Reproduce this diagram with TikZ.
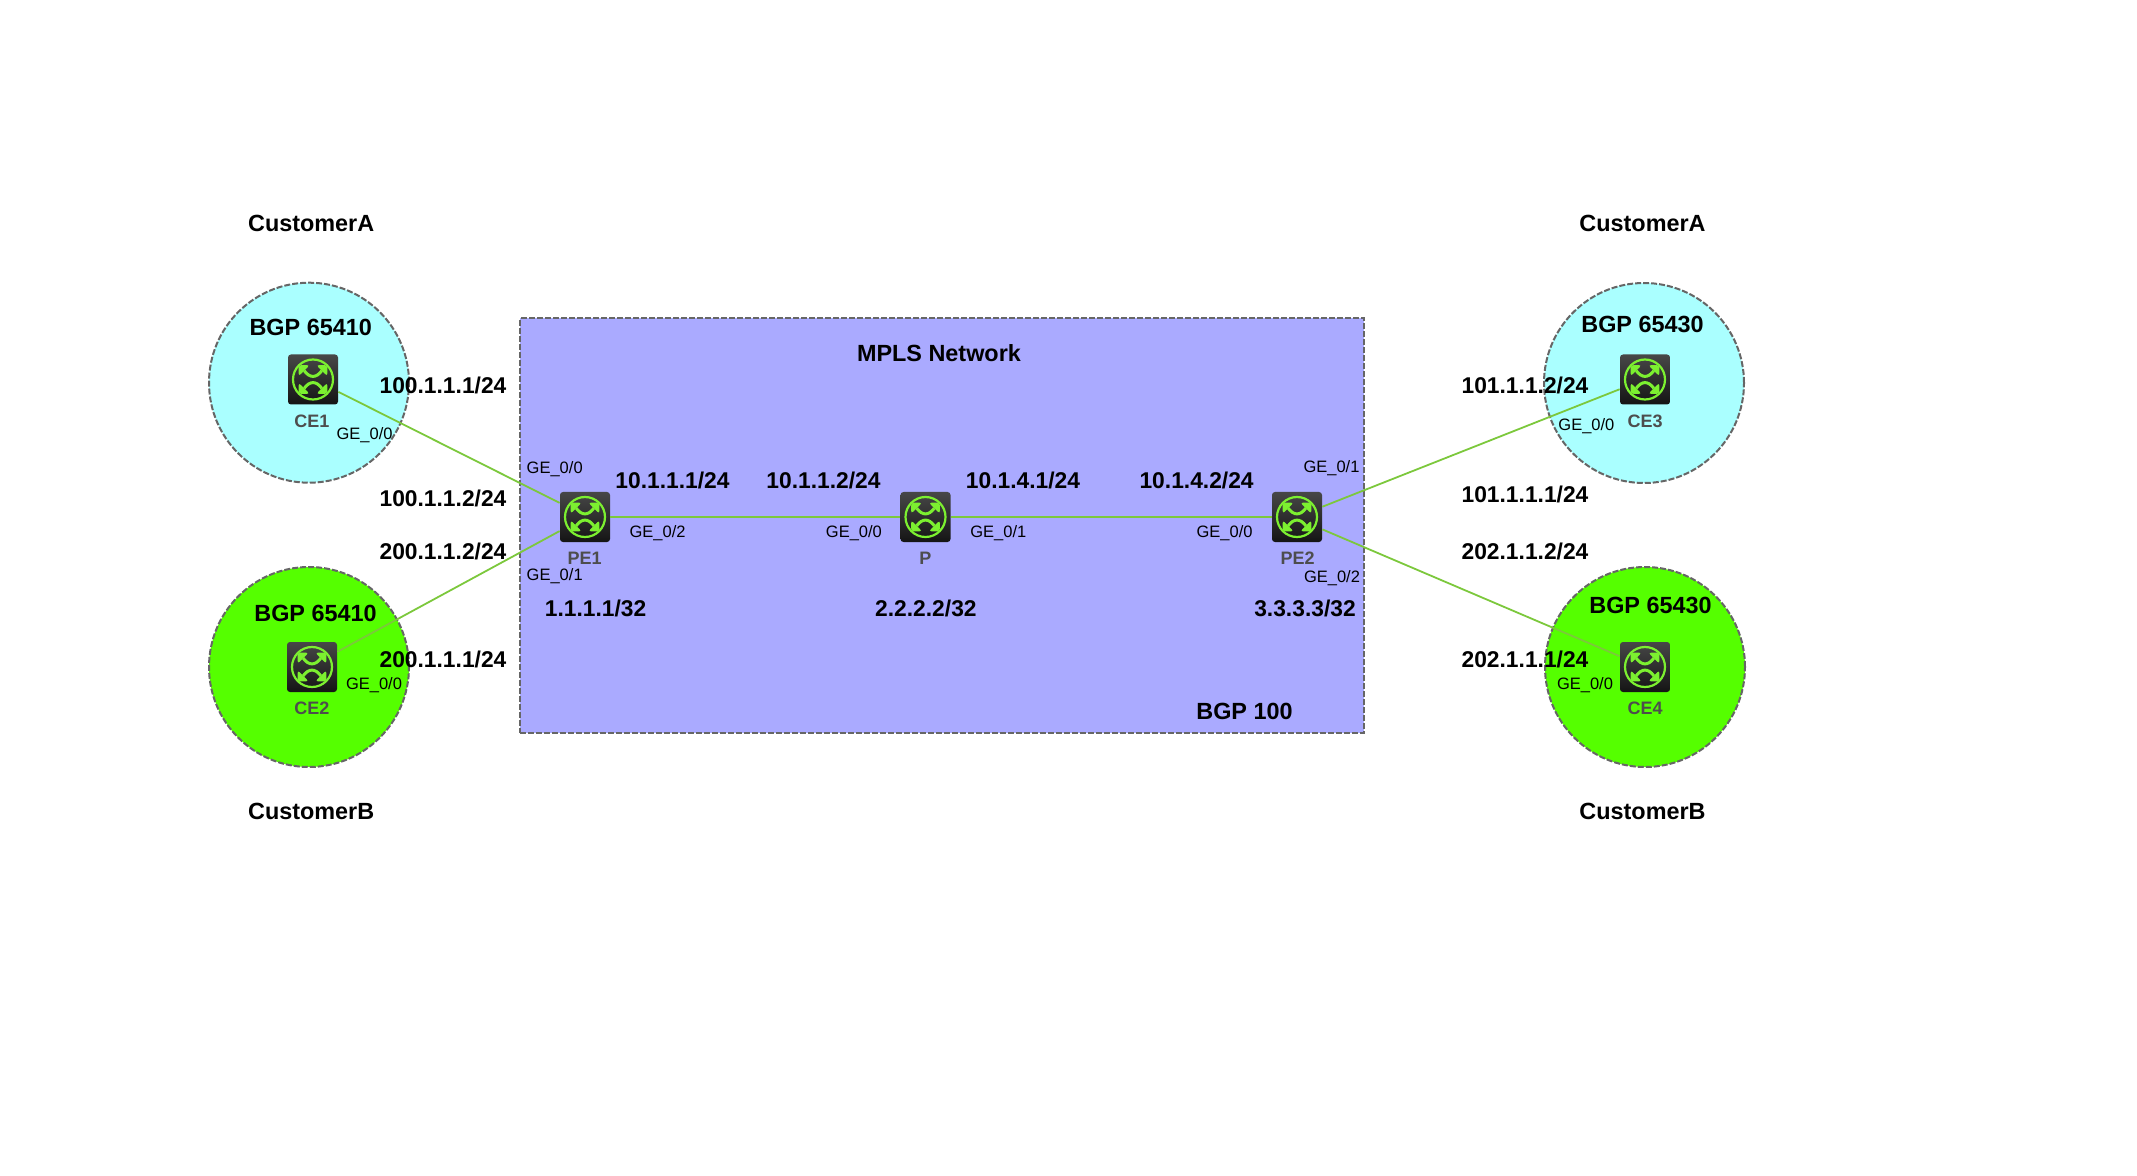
\documentclass[tikz,border=0pt]{standalone}
\usepackage{fontspec}
\setmainfont{Liberation Sans}
\definecolor{sitecyan}{HTML}{AAFFFF}
\definecolor{sitegreen}{HTML}{55FF00}
\definecolor{corefill}{HTML}{AAAAFF}
\definecolor{edgegray}{HTML}{666666}
\definecolor{linkgreen}{HTML}{7CC83C}
\definecolor{icongreen}{HTML}{7CF030}
\definecolor{namegray}{HTML}{4D4D4D}
\tikzset{
    site/.style={circle, draw=edgegray, line width=1pt, dash pattern=on 3pt off 1pt, minimum size=100pt, inner sep=0pt},
    core/.style={rectangle, draw=edgegray, fill=corefill, line width=1pt, dash pattern=on 3pt off 1pt, inner sep=0pt},
    link/.style={draw=linkgreen, line width=0.9pt},
    addr/.style={font=\fontsize{11.4}{13}\selectfont\bfseries, inner sep=0pt},
    title/.style={font=\fontsize{11.7}{13}\selectfont\bfseries, inner sep=0pt},
    port/.style={font=\fontsize{8.25}{10}\selectfont, inner sep=0pt},
    devname/.style={font=\fontsize{9}{10}\selectfont\bfseries, text=namegray, inner sep=0pt},
    router/.style={rectangle, minimum size=25pt, inner sep=0pt, rounded corners=1.5pt,
        top color=black!72, bottom color=black!92,
        path picture={
            \begin{scope}[shift={(path picture bounding box.center)}]
                \draw[icongreen, line width=1.1pt] (0pt,0pt) circle (10pt);
                \draw[icongreen, line width=1.5pt] (-4.4pt,4.4pt) .. controls (-1.6pt,0.6pt) and (1.6pt,0.6pt) .. (4.4pt,4.4pt);
                \draw[icongreen, line width=1.5pt] (-4.4pt,-4.4pt) .. controls (-1.6pt,-0.6pt) and (1.6pt,-0.6pt) .. (4.4pt,-4.4pt);
                \fill[icongreen] (7.2pt,7.2pt) -- (7.2pt,1.6pt) -- (1.6pt,7.2pt) -- cycle;
                \fill[icongreen] (-7.2pt,7.2pt) -- (-7.2pt,1.6pt) -- (-1.6pt,7.2pt) -- cycle;
                \fill[icongreen] (7.2pt,-7.2pt) -- (7.2pt,-1.6pt) -- (1.6pt,-7.2pt) -- cycle;
                \fill[icongreen] (-7.2pt,-7.2pt) -- (-7.2pt,-1.6pt) -- (-1.6pt,-7.2pt) -- cycle;
            \end{scope}
        }},
}
\begin{document}
\begin{tikzpicture}[x=0.5pt, y=-0.5pt]
    \useasboundingbox (0, 0) rectangle (2137, 1176);
    \node[core, minimum width=422pt, minimum height=207.2pt] (mpls) at (942.4, 525.5) {};
    \node[site, fill=sitecyan] (siteone) at (309, 382.7) {};
    \node[site, fill=sitegreen] (sitetwo) at (309, 667) {};
    \node[site, fill=sitecyan] (sitethree) at (1644, 383) {};
    \node[site, fill=sitegreen] (sitefour) at (1645, 667) {};
    \node[router] (ce1) at (313, 379.5) {};
    \node[router] (ce2) at (312, 667) {};
    \node[router] (ce3) at (1645, 379.5) {};
    \node[router] (ce4) at (1645, 667) {};
    \node[router] (pe1) at (585, 517) {};
    \node[router] (p) at (925.5, 517) {};
    \node[router] (pe2) at (1297, 517) {};
    \draw[link] (ce1.-26) -- (pe1.151);
    \draw[link] (ce2.31) -- (pe1.209);
    \draw[link] (pe1.east) -- (p.west);
    \draw[link] (p.east) -- (pe2.west);
    \draw[link] (pe2.22) -- (ce3.201);
    \draw[link] (pe2.-26) -- (ce4.157);
    \node[devname] (namece1) at (312, 421) {CE1};
    \node[devname] (namece2) at (312, 708.5) {CE2};
    \node[devname] (namece3) at (1645, 421) {CE3};
    \node[devname] (namece4) at (1645, 708.5) {CE4};
    \node[devname] (namepe1) at (584.7, 558) {PE1};
    \node[devname] (namep) at (925.4, 558) {P};
    \node[devname] (namepe2) at (1297.5, 558) {PE2};
    \node[title] (custa1) at (311.2, 223.5) {CustomerA};
    \node[title] (custa2) at (1642.5, 223.5) {CustomerA};
    \node[title] (custb1) at (311.2, 811.5) {CustomerB};
    \node[title] (custb2) at (1642.5, 811.5) {CustomerB};
    \node[title] (bgpone) at (310.7, 327) {BGP 65410};
    \node[title] (bgptwo) at (315.5, 613) {BGP 65410};
    \node[title] (bgpthree) at (1642.5, 324.4) {BGP 65430};
    \node[title] (bgpfour) at (1650.5, 605) {BGP 65430};
    \node[title] (mplsname) at (939, 353) {MPLS Network};
    \node[title] (bgpcore) at (1244.5, 711.4) {BGP 100};
    \node[addr] (ipa) at (443, 385.7) {100.1.1.1/24};
    \node[addr] (ipb) at (443, 498.8) {100.1.1.2/24};
    \node[addr] (ipc) at (443, 551) {200.1.1.2/24};
    \node[addr] (ipd) at (443, 659.6) {200.1.1.1/24};
    \node[addr] (ipe) at (1525, 385.7) {101.1.1.2/24};
    \node[addr] (ipf) at (1525, 494.7) {101.1.1.1/24};
    \node[addr] (ipg) at (1525, 551) {202.1.1.2/24};
    \node[addr] (iph) at (1525, 659.6) {202.1.1.1/24};
    \node[addr] (ipi) at (672.5, 480.4) {10.1.1.1/24};
    \node[addr] (ipj) at (823.5, 480.4) {10.1.1.2/24};
    \node[addr] (ipk) at (1023, 480.4) {10.1.4.1/24};
    \node[addr] (ipl) at (1196.6, 480.4) {10.1.4.2/24};
    \node[addr] (loopa) at (595.6, 608.5) {1.1.1.1/32};
    \node[addr] (loopb) at (925.9, 608.5) {2.2.2.2/32};
    \node[addr] (loopc) at (1305, 608.5) {3.3.3.3/32};
    \node[port] (portce1) at (364.6, 435.3) {GE\_0/0};
    \node[port] (portce2) at (374, 685.5) {GE\_0/0};
    \node[port] (portce3) at (1586.4, 426.5) {GE\_0/0};
    \node[port] (portce4) at (1585, 685.5) {GE\_0/0};
    \node[port] (portpea) at (554.7, 469.5) {GE\_0/0};
    \node[port] (portpeb) at (554.7, 576.5) {GE\_0/1};
    \node[port] (portpec) at (657.6, 533.5) {GE\_0/2};
    \node[port] (portpa) at (853.9, 533.5) {GE\_0/0};
    \node[port] (portpb) at (998.3, 533.5) {GE\_0/1};
    \node[port] (portpf) at (1224.6, 533.5) {GE\_0/0};
    \node[port] (portpg) at (1331.5, 468) {GE\_0/1};
    \node[port] (portph) at (1332, 578.5) {GE\_0/2};
\end{tikzpicture}
\end{document}
